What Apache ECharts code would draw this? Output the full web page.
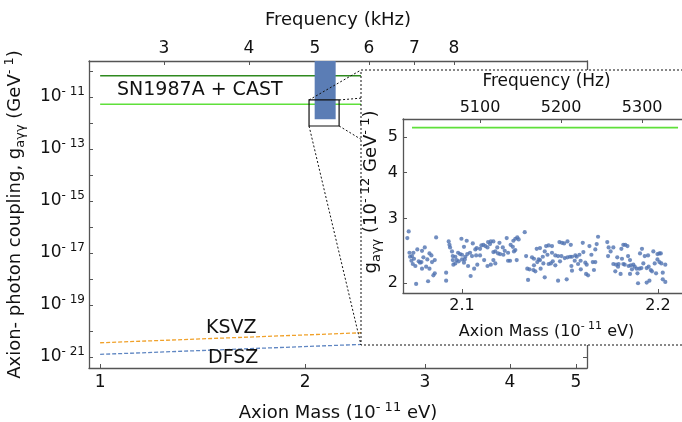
<!DOCTYPE html>
<html>
<head>
<meta charset="utf-8">
<script src="https://cdn.jsdelivr.net/npm/echarts@6/dist/echarts.min.js"></script>
<style>
  html, body { margin: 0; padding: 0; background: #fff; }
  #chart { width: 682px; height: 422px; }
</style>
</head>
<body>
<div id="chart"></div>
<script>
const FONT = 'DejaVu Sans'
const HZ_PER_MASS = 2418 // 1e-11 eV -> Hz
const lg = Math.log10

// main panel
const massTicks = [1, 2, 3, 4, 5]
const freqTicksKHz = [3, 4, 5, 6, 7, 8]
const couplingTickExps = [-21, -20, -19, -18, -17, -16, -15, -14, -13, -12, -11, -10]
const couplingLabelExps = [-21, -19, -17, -15, -13, -11]

const limitMass = [1.0, 5.2]
const castLimit = [6.6e-11, 6.6e-11]
const sn1987aLimit = [5.3e-12, 5.3e-12]
const ksvzMass = [1.0, 5.2]
const ksvzCoupling = [3.55e-21, 1.85e-20]
const dfszCoupling = [1.27e-21, 6.6e-21]

// [mass lo, mass hi, g lo, g hi]
const scanBand = [2.066, 2.218, 1.4e-12, 1e-9]
const zoomBox = [2.027, 2.244, 7.7e-13, 7.7e-12]

// inset (g in 1e-12 GeV^-1)
const insetMassTicks = [2.1, 2.2]
const insetFreqTicks = [5100, 5200, 5300]
const insetCouplingTicks = [2, 3, 4, 5]
const insetLimitMass = [2.0745, 2.2102]
const insetLimit = [5.3, 5.3]

const scanPoints = [
  [2.0728, 2.764], [2.0721, 2.651], [2.0868, 2.662], [2.0732, 2.418], [2.0752, 2.418],
  [2.0772, 2.469], [2.0796, 2.448], [2.0810, 2.500], [2.0834, 2.408], [2.0844, 2.378],
  [2.0745, 2.368], [2.0735, 2.358], [2.0755, 2.329], [2.0803, 2.349], [2.0823, 2.319],
  [2.0861, 2.310], [2.0847, 2.281], [2.0742, 2.300], [2.0779, 2.291], [2.0786, 2.272],
  [2.0793, 2.281], [2.0749, 2.253], [2.0762, 2.225], [2.0817, 2.216], [2.0796, 2.188],
  [2.0834, 2.188], [2.0861, 2.125], [2.0854, 2.099], [2.0827, 2.022], [2.0766, 1.989],
  [2.0919, 2.134], [2.0919, 2.030], [2.0932, 2.596], [2.0939, 2.500], [2.0936, 2.542],
  [2.0949, 2.438], [2.0997, 2.640], [2.1024, 2.607], [2.1010, 2.510], [2.1055, 2.563],
  [2.1075, 2.490], [2.1068, 2.469], [2.1092, 2.479], [2.1099, 2.532], [2.1109, 2.542],
  [2.1119, 2.521], [2.1133, 2.585], [2.1147, 2.596], [2.1160, 2.596], [2.1143, 2.553],
  [2.1130, 2.500], [2.0953, 2.368], [2.0966, 2.358], [2.0980, 2.418], [2.0990, 2.398],
  [2.1000, 2.388], [2.1017, 2.358], [2.1027, 2.398], [2.1041, 2.418], [2.1051, 2.368],
  [2.1072, 2.378], [2.1092, 2.378], [2.0953, 2.310], [2.0973, 2.310], [2.0956, 2.244],
  [2.0983, 2.291], [2.1000, 2.319], [2.1014, 2.319], [2.1010, 2.272], [2.1031, 2.225],
  [2.1062, 2.188], [2.1078, 2.244], [2.1113, 2.310], [2.1130, 2.225], [2.1147, 2.244],
  [2.1160, 2.310], [2.1044, 2.090], [2.0966, 2.262],
  [2.1191, 2.574], [2.1180, 2.500], [2.1170, 2.438], [2.1160, 2.428], [2.1208, 2.500],
  [2.1218, 2.448], [2.1184, 2.408], [2.1194, 2.398], [2.1211, 2.388], [2.1235, 2.418],
  [2.1248, 2.542], [2.1259, 2.510], [2.1265, 2.438], [2.1272, 2.459], [2.1228, 2.651],
  [2.1262, 2.607], [2.1272, 2.640], [2.1282, 2.662], [2.1289, 2.629], [2.1320, 2.752],
  [2.1170, 2.262], [2.1235, 2.300], [2.1245, 2.300], [2.1279, 2.310], [2.1327, 2.368],
  [2.1357, 2.349], [2.1367, 2.329], [2.1381, 2.479], [2.1398, 2.490], [2.1422, 2.438],
  [2.1436, 2.388], [2.1429, 2.521], [2.1442, 2.532], [2.1459, 2.521], [2.1459, 2.418],
  [2.1476, 2.378], [2.1490, 2.368], [2.1507, 2.368], [2.1497, 2.585], [2.1510, 2.574],
  [2.1521, 2.563], [2.1538, 2.596], [2.1555, 2.542], [2.1524, 2.339], [2.1538, 2.349],
  [2.1551, 2.358], [2.1561, 2.358], [2.1578, 2.378], [2.1585, 2.358], [2.1599, 2.388],
  [2.1619, 2.428], [2.1575, 2.300], [2.1592, 2.253], [2.1558, 2.225], [2.1606, 2.179],
  [2.1561, 2.161], [2.1534, 2.047], [2.1490, 2.030], [2.1422, 2.073], [2.1401, 2.188],
  [2.1374, 2.152], [2.1364, 2.170], [2.1344, 2.179], [2.1333, 2.188], [2.1337, 2.039],
  [2.1384, 2.281], [2.1398, 2.310], [2.1412, 2.358], [2.1415, 2.262], [2.1442, 2.253],
  [2.1453, 2.262], [2.1463, 2.291], [2.1476, 2.234], [2.1500, 2.291], [2.1367, 2.234],
  [2.1391, 2.319],
  [2.1694, 2.673], [2.1687, 2.553], [2.1616, 2.574], [2.1650, 2.521], [2.1680, 2.469],
  [2.1660, 2.388], [2.1605, 2.300], [2.1629, 2.272], [2.1636, 2.244], [2.1667, 2.281],
  [2.1680, 2.281], [2.1673, 2.170], [2.1633, 2.117], [2.1643, 2.099], [2.1741, 2.585],
  [2.1748, 2.500], [2.1772, 2.500], [2.1758, 2.438], [2.1745, 2.368], [2.1823, 2.542],
  [2.1833, 2.542], [2.1844, 2.521], [2.1813, 2.479], [2.1792, 2.349], [2.1816, 2.329],
  [2.1772, 2.253], [2.1786, 2.244], [2.1799, 2.253], [2.1796, 2.216], [2.1782, 2.152],
  [2.1809, 2.117], [2.1823, 2.253], [2.1830, 2.244], [2.1847, 2.368], [2.1857, 2.310],
  [2.1850, 2.225], [2.1861, 2.234], [2.1874, 2.244], [2.1881, 2.216], [2.1867, 2.179],
  [2.1857, 2.117], [2.1891, 2.188], [2.1895, 2.125], [2.1905, 2.188], [2.1915, 2.197],
  [2.1918, 2.479], [2.1908, 2.408], [2.1932, 2.368], [2.1925, 2.262], [2.1949, 2.378],
  [2.1952, 2.216], [2.1942, 2.197], [2.1963, 2.170], [2.1969, 2.152], [2.1976, 2.438],
  [2.1983, 2.262], [2.1997, 2.398], [2.2007, 2.408], [2.2014, 2.408], [2.1997, 2.319],
  [2.2007, 2.281], [2.2017, 2.262], [2.2037, 2.244], [2.1990, 2.125], [2.2024, 2.134],
  [2.1898, 1.997], [2.1942, 2.005], [2.1956, 2.030], [2.2024, 2.047], [2.2037, 2.014]
]

const axisColor = '#555'
const bandColor = '#5b7db5'
const pointColor = '#4f72b0'

const massMin = lg(0.963)
const massMax = lg(5.19)
const insetMin = 2.0699
const insetMax = 2.2163

const txt = (size, extra) => Object.assign({ fontFamily: FONT, fontSize: size, color: '#111' }, extra || {})
const richSet = (size, small) => ({
  n: txt(size, { lineHeight: size + 6 }),
  sup: txt(small, { lineHeight: small, verticalAlign: 'top' }),
  sub: txt(small, { lineHeight: small, verticalAlign: 'bottom' })
})
const line = w => ({ show: true, onZero: false, lineStyle: { color: axisColor, width: w || 1.3 } })
const ticks = values => ({ show: true, inside: true, length: 4, customValues: values, lineStyle: { color: axisColor, width: 1 } })
const pts = (xs, ys) => xs.map((x, i) => [lg(x), lg(ys[i])])

const rectItem = (fill, stroke) => (params, api) => {
  const a = api.coord([api.value(0), api.value(3)])
  const b = api.coord([api.value(1), api.value(2)])
  const cs = params.coordSys
  const shape = echarts.graphic.clipRectByRect(
    { x: a[0], y: a[1], width: b[0] - a[0], height: b[1] - a[1] },
    { x: cs.x, y: cs.y, width: cs.width, height: cs.height }
  )
  if (!shape) return
  return { type: 'rect', shape: shape, style: { fill: fill, stroke: stroke, lineWidth: 1.2 } }
}

const chart = echarts.init(document.getElementById('chart'))

chart.setOption({
  animation: false,
  grid: [
    { left: 89, top: 61, width: 498, height: 307, outerBoundsMode: 'none', containLabel: false },
    { left: 403, top: 119, width: 287, height: 174, z: 10, outerBoundsMode: 'none', containLabel: false }
  ],
  xAxis: [
    {
      gridIndex: 0, type: 'value', position: 'bottom', min: massMin, max: massMax,
      axisLine: line(), axisTick: ticks(massTicks.map(lg)), splitLine: { show: false },
      axisLabel: Object.assign(txt(17), { customValues: massTicks.map(lg), margin: 6, formatter: v => String(Math.round(10 ** v)) }),
      name: '{n|Axion Mass (10}{sup|- 11}{n| eV)}', nameLocation: 'middle', nameGap: 33,
      nameTextStyle: Object.assign(txt(18), { rich: richSet(18, 13) })
    },
    {
      gridIndex: 0, type: 'value', position: 'top',
      min: massMin + lg(HZ_PER_MASS / 1000), max: massMax + lg(HZ_PER_MASS / 1000),
      axisLine: line(), axisTick: ticks(freqTicksKHz.map(lg)), splitLine: { show: false },
      axisLabel: Object.assign(txt(17), { customValues: freqTicksKHz.map(lg), margin: 4, formatter: v => String(Math.round(10 ** v)) }),
      name: 'Frequency (kHz)', nameLocation: 'middle', nameGap: 32, nameTextStyle: txt(18)
    },
    {
      gridIndex: 1, type: 'value', position: 'bottom', min: insetMin, max: insetMax, z: 10,
      axisLine: line(), axisTick: ticks(insetMassTicks), splitLine: { show: false },
      axisLabel: Object.assign(txt(16), { customValues: insetMassTicks, margin: 5, formatter: v => v.toFixed(1) }),
      name: '{n|Axion Mass (10}{sup|- 11}{n| eV)}', nameLocation: 'middle', nameGap: 28,
      nameTextStyle: Object.assign(txt(16), { rich: richSet(16, 11) })
    },
    {
      gridIndex: 1, type: 'value', position: 'top', min: insetMin * HZ_PER_MASS, max: insetMax * HZ_PER_MASS, z: 10,
      axisLine: line(), axisTick: ticks(insetFreqTicks), splitLine: { show: false },
      axisLabel: Object.assign(txt(16), { customValues: insetFreqTicks, margin: 3, formatter: v => String(Math.round(v)) }),
      name: 'Frequency (Hz)', nameLocation: 'middle', nameGap: 29, nameTextStyle: txt(17)
    }
  ],
  yAxis: [
    {
      gridIndex: 0, type: 'value', position: 'left', min: -21.42, max: -9.615,
      axisLine: line(), axisTick: ticks(couplingTickExps), splitLine: { show: false },
      axisLabel: {
        customValues: couplingLabelExps, margin: 4,
        formatter: v => '{b|10}{s|- ' + Math.round(-v) + '}',
        rich: {
          b: txt(17, { lineHeight: 22 }),
          s: txt(12, { lineHeight: 12, verticalAlign: 'top' })
        }
      },
      name: '{n|Axion- photon coupling, g}{sub|aγγ}{n| (GeV}{sup|- 1}{n|)}',
      nameLocation: 'middle', nameGap: 62,
      nameTextStyle: Object.assign(txt(18), { rich: richSet(18, 13) })
    },
    {
      gridIndex: 0, type: 'value', position: 'right', min: -21.42, max: -9.615,
      axisLine: line(), axisTick: ticks(couplingTickExps), splitLine: { show: false },
      axisLabel: { show: false }
    },
    {
      gridIndex: 1, type: 'value', position: 'left', min: 0.2738, max: 0.7479, z: 10,
      axisLine: line(), axisTick: ticks(insetCouplingTicks.map(lg)), splitLine: { show: false },
      axisLabel: Object.assign(txt(16), { customValues: insetCouplingTicks.map(lg), margin: 5, formatter: v => String(Math.round(10 ** v)) }),
      name: '{n|g}{sub|aγγ}{n| (10}{sup|- 12}{n| GeV}{sup|- 1}{n|)}',
      nameLocation: 'middle', nameGap: 20,
      nameTextStyle: Object.assign(txt(18), { rich: richSet(18, 13), padding: [0, 0, 0, 28] })
    }
  ],
  series: [
    {
      name: 'CAST', type: 'line', xAxisIndex: 0, yAxisIndex: 0, symbol: 'none', z: 2,
      data: pts(limitMass, castLimit), lineStyle: { color: '#2f8a1f', width: 1.6 }
    },
    {
      name: 'SN1987A', type: 'line', xAxisIndex: 0, yAxisIndex: 0, symbol: 'none', z: 2,
      data: pts(limitMass, sn1987aLimit), lineStyle: { color: '#5fe03a', width: 1.6 }
    },
    {
      name: 'KSVZ', type: 'line', xAxisIndex: 0, yAxisIndex: 0, symbol: 'none', z: 2,
      data: pts(ksvzMass, ksvzCoupling), lineStyle: { color: '#f0a12a', width: 1.3, type: [4, 2] }
    },
    {
      name: 'DFSZ', type: 'line', xAxisIndex: 0, yAxisIndex: 0, symbol: 'none', z: 2,
      data: pts(ksvzMass, dfszCoupling), lineStyle: { color: '#5f86c2', width: 1.3, type: [4, 2] }
    },
    {
      name: 'scan', type: 'custom', xAxisIndex: 0, yAxisIndex: 0, z: 3,
      encode: { x: [0, 1], y: [2, 3] },
      data: [[lg(scanBand[0]), lg(scanBand[1]), lg(scanBand[2]), lg(scanBand[3])]],
      renderItem: rectItem(bandColor, null)
    },
    {
      name: 'zoom', type: 'custom', xAxisIndex: 0, yAxisIndex: 0, z: 4,
      encode: { x: [0, 1], y: [2, 3] },
      data: [[lg(zoomBox[0]), lg(zoomBox[1]), lg(zoomBox[2]), lg(zoomBox[3])]],
      renderItem: rectItem('none', '#111')
    },
    {
      name: 'SN1987A inset', type: 'line', xAxisIndex: 2, yAxisIndex: 2, symbol: 'none', z: 11,
      data: insetLimitMass.map((m, i) => [m, lg(insetLimit[i])]),
      lineStyle: { color: '#5fe03a', width: 1.6 }
    },
    {
      name: 'scan inset', type: 'scatter', xAxisIndex: 2, yAxisIndex: 2, z: 11,
      symbolSize: 4.2, itemStyle: { color: pointColor },
      data: scanPoints.map(p => [p[0], lg(p[1])])
    }
  ]
})

// inset frame and connectors from the zoom box corners
const frame = { x: 361, y: 70, width: 337, height: 275 }
const toPx = (m, g) => chart.convertToPixel({ xAxisIndex: 0, yAxisIndex: 0 }, [lg(m), lg(g)])
const boxTL = toPx(zoomBox[0], zoomBox[3])
const boxTR = toPx(zoomBox[1], zoomBox[3])
const boxBL = toPx(zoomBox[0], zoomBox[2])
const boxBR = toPx(zoomBox[1], zoomBox[2])
const dash = { stroke: '#111', lineWidth: 1, lineDash: [2, 2] }
const connector = (p, q) => ({ type: 'line', z: 4, shape: { x1: p[0], y1: p[1], x2: q[0], y2: q[1] }, style: dash })
const label = (text, x, y) => ({
  type: 'text', x: x, y: y, z: 3,
  style: { text: text, fontFamily: FONT, fontSize: 19, fill: '#111', verticalAlign: 'middle' }
})

chart.setOption({
  graphic: [
    connector(boxTL, [frame.x, frame.y]),
    connector(boxBL, [frame.x, frame.y + frame.height]),
    connector(boxTR, [frame.x + frame.width, frame.y]),
    connector(boxBR, [frame.x + frame.width, frame.y + frame.height]),
    {
      type: 'rect', z: 5, shape: frame,
      style: { fill: '#fff', stroke: '#111', lineWidth: 1, lineDash: [2, 2] }
    },
    label('SN1987A + CAST', 117, 90),
    label('KSVZ', 206, 328),
    label('DFSZ', 208, 358)
  ]
})
</script>
</body>
</html>
